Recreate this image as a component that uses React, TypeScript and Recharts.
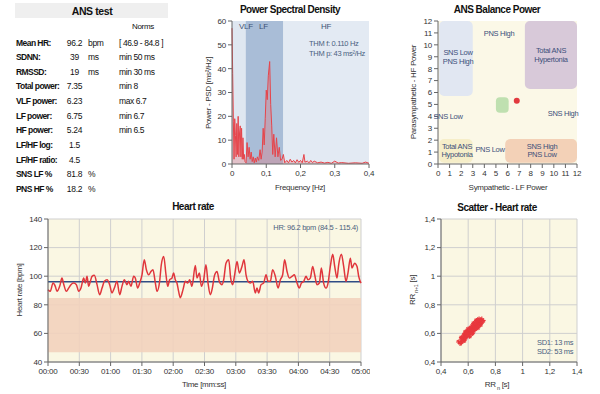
import React from "react";
import {
  AreaChart,
  Area,
  LineChart,
  Line,
  ScatterChart,
  Scatter,
  XAxis,
  YAxis,
  CartesianGrid,
  ReferenceArea,
  ReferenceLine,
} from "recharts";

const FONT = '"Liberation Sans", Arial, sans-serif';

// ---- summary table ----
const tableLabels = [
  "Mean HR:", "SDNN:", "RMSSD:", "Total power:", "VLF power:", "LF power:",
  "HF power:", "LF/HF log:", "LF/HF ratio:", "SNS LF %", "PNS HF %",
];
const tableValues = ["96.2", "39", "19", "7.35", "6.23", "6.75", "5.24", "1.5", "4.5", "81.8", "18.2"];
const tableUnits = ["bpm", "ms", "ms", "", "", "", "", "", "", "%", "%"];
const tableNorms = ["[ 46.9 - 84.8 ]", "min 50 ms", "min 30 ms", "min 8", "max 6.7", "min 6.7", "min 6.5", "", "", "", ""];

// ---- power spectral density ----
const psdFreq = [
  0, 0.002, 0.004, 0.006, 0.008, 0.01, 0.012, 0.014, 0.016, 0.018, 0.02, 0.022, 0.024, 0.026,
  0.028, 0.03, 0.032, 0.034, 0.036, 0.038, 0.041, 0.044, 0.047, 0.05, 0.053, 0.056, 0.059,
  0.062, 0.065, 0.068, 0.071, 0.074, 0.078, 0.082, 0.085, 0.088, 0.091, 0.094, 0.097, 0.1,
  0.103, 0.106, 0.11, 0.113, 0.116, 0.119, 0.122, 0.126, 0.13, 0.134, 0.138, 0.142, 0.146,
  0.15, 0.154, 0.16, 0.165, 0.17, 0.175, 0.18, 0.185, 0.19, 0.195, 0.2, 0.205, 0.21, 0.213,
  0.22, 0.225, 0.23, 0.235, 0.24, 0.25, 0.26, 0.27, 0.28, 0.29, 0.3, 0.31, 0.32, 0.34, 0.36,
  0.38, 0.39, 0.4,
];
const psdPower = [
  57, 38, 18, 2, 19, 12, 3, 17, 4, 20, 3, 13, 16, 3,
  15, 2, 11, 2, 4, 1, 0.5, 9, 3, 7, 2, 5, 1,
  3, 0.5, 2.5, 0.8, 3, 1.5, 6, 2, 5, 15, 8, 19, 31,
  27, 37, 43, 25, 16, 4, 12.5, 3, 11, 3, 7, 1.5, 2,
  4, 0.5, 1.5, 0.5, 2, 0.8, 1.5, 0.5, 1.8, 0.7, 1.5, 0.5, 4, 0.8,
  1.2, 0.5, 1.5, 0.6, 1.2, 0.5, 0.8, 0.4, 0.7, 0.3, 1.2, 0.4, 0.6, 0.3, 0.5,
  0.3, 0.8, 0.3,
];
const psdTicksX = [0, 0.1, 0.2, 0.3, 0.4];
const psdTicksY = [0, 10, 20, 30, 40, 50, 60];

// ---- ANS balance ----
const balanceTicks = [0, 1, 2, 3, 4, 5, 6, 7, 8, 9, 10, 11, 12];
const balanceLF = [6.8];
const balanceHF = [5.3];

// ---- heart rate ----
const hrTimes = [
  0, 2.2, 4.8, 7, 8.6, 11.2, 13.4, 15, 17.6, 19.8, 22, 24.6, 27.2, 29.4, 31.6, 34.2, 35.8,
  37.4, 39, 40.6, 42.2, 44.4, 47, 49.5, 51.8, 54, 56.6, 59.1, 61.3, 63.6, 66.1, 68.7, 70.9,
  73.2, 75.7, 77.3, 79.5, 82.1, 83.7, 85.9, 87.9, 90.1, 92.3, 94.3, 96.5, 98.7, 100.6, 102.9,
  104.5, 107, 108.6, 110.9, 113.1, 114.7, 116.6, 118.8, 120.4, 122, 123.6, 125.2, 126.8,
  129.4, 131.6, 133.9, 135.8, 138, 141.2, 142.8, 145.1, 147, 149.2, 151.4, 153.4, 155.6,
  157.2, 159.8, 162, 164.2, 166.8, 168.4, 170.6, 173.2, 175.1, 177, 178.9, 181.2, 183.4,
  185.9, 187.9, 189.8, 191.7, 193.9, 196.2, 198.7, 200.3, 201.9, 204.2, 206.7, 209, 210.9,
  213.1, 215.3, 217.9, 220.5, 222.7, 224.9, 226.8, 229.1, 231.3, 233.9, 236.1, 238.7, 240.9,
  242.8, 245.1, 247.3, 249.2, 251.4, 253.7, 255.6, 257.8, 260.1, 262, 264.2, 266.5, 268.4,
  270.6, 272.9, 274.8, 277, 278.6, 281.2, 283.4, 285.6, 287.5, 289.8, 291.4, 293.9, 296.2,
  297.8, 300,
];
const hrValues = [
  90.6, 89.4, 95.2, 92.9, 89.4, 92.9, 98.7, 94.5, 89.4, 91.7, 94.1, 95.2, 94.1, 89.4, 91.7,
  98.7, 95.2, 99.9, 92.9, 96.4, 99.9, 100.6, 94.1, 87.1, 91.7, 96.4, 97.5, 94.1, 88.3, 91.7,
  96.4, 87.1, 92.9, 97.5, 94.1, 96.4, 92.9, 99.9, 98.7, 91.7, 95.2, 101, 111.5, 104.5, 101,
  103.3, 104.5, 95.2, 89.4, 96.4, 108, 113.8, 101, 92.9, 97.5, 98.7, 102.2, 97.5, 95.2, 89.4,
  85, 90.6, 96.4, 95.2, 97.5, 92.9, 107.5, 98.7, 102.2, 92.9, 97.5, 108, 95.2, 87.1, 90.6,
  101, 103.3, 96.4, 94.1, 97.5, 109.1, 111.5, 98.7, 94.1, 101, 110.3, 102.2, 106.8, 111.5,
  101, 96.4, 95.2, 96.4, 88.3, 91.7, 88.3, 94.1, 95.2, 101, 96.4, 96.4, 104.5, 99.9, 91.7,
  97.5, 101, 111.5, 103.3, 98.7, 99.9, 101, 95.2, 91.7, 95.2, 96.4, 99.9, 97.5, 98.7, 106.8,
  101, 94.1, 95.2, 105.7, 95.2, 91.7, 95.2, 106.8, 115.4, 106.8, 98.7, 108, 115.4, 106.8,
  96.4, 102.2, 112.6, 105.7, 109.1, 106.8, 99.9, 95.2,
];
const hrMean = 96.2;
const hrNormLow = 46.9;
const hrNormHigh = 84.8;
const hrTicksX = [0, 30, 60, 90, 120, 150, 180, 210, 240, 270, 300];
const hrTicksY = [40, 60, 80, 100, 120, 140];

// ---- Poincare scatter ----
const rrN = [
  0.53, 0.54, 0.55, 0.55, 0.56, 0.56, 0.57, 0.57, 0.57, 0.58, 0.58, 0.58, 0.59, 0.59, 0.59,
  0.6, 0.6, 0.6, 0.61, 0.61, 0.61, 0.62, 0.62, 0.62, 0.63, 0.63, 0.63, 0.64, 0.64, 0.64,
  0.65, 0.65, 0.65, 0.66, 0.66, 0.66, 0.67, 0.67, 0.67, 0.68, 0.68, 0.68, 0.69, 0.69, 0.7,
  0.7, 0.71, 0.57, 0.6, 0.63, 0.66, 0.69, 0.55, 0.64, 0.67, 0.58, 0.61,
];
const rrN1 = [
  0.54, 0.53, 0.56, 0.54, 0.57, 0.55, 0.58, 0.56, 0.59, 0.57, 0.6, 0.58, 0.61, 0.58, 0.6,
  0.59, 0.62, 0.61, 0.6, 0.63, 0.62, 0.6, 0.64, 0.62, 0.61, 0.65, 0.63, 0.62, 0.66, 0.64,
  0.63, 0.67, 0.65, 0.64, 0.68, 0.66, 0.65, 0.69, 0.67, 0.66, 0.7, 0.68, 0.67, 0.69, 0.68,
  0.7, 0.69, 0.55, 0.63, 0.6, 0.69, 0.66, 0.57, 0.67, 0.64, 0.61, 0.58,
];
const rrTicks = [0.4, 0.6, 0.8, 1, 1.2, 1.4];

const psdData = psdFreq.map((f, i) => ({ f, p: psdPower[i] }));
const hrData = hrTimes.map((t, i) => ({ t, hr: hrValues[i] }));
const rrData = rrN.map((x, i) => ({ x, y: rrN1[i] }));
const balanceData = balanceLF.map((x, i) => ({ x, y: balanceHF[i] }));

const comma = (v: number) => String(Math.round(v * 100) / 100).replace(".", ",");
const mmss = (t: number) => {
  const m = Math.floor(t / 60);
  const s = t % 60;
  return `${String(m).padStart(2, "0")}:${String(s).padStart(2, "0")}`;
};

const tick = { fontSize: 8, fill: "#333", fontFamily: FONT, letterSpacing: -0.2 };
const axisLine = { stroke: "#666" };

// small markers
const Dot = (p: any) => <circle cx={p.cx} cy={p.cy} r={3} fill="#e23a3f" />;
const Cross = (p: any) => (
  <g stroke="#e8383d" strokeWidth={1.2}>
    <line x1={p.cx - 2.5} y1={p.cy} x2={p.cx + 2.5} y2={p.cy} />
    <line x1={p.cx} y1={p.cy - 2.5} x2={p.cx} y2={p.cy + 2.5} />
    <line x1={p.cx - 1.8} y1={p.cy - 1.8} x2={p.cx + 1.8} y2={p.cy + 1.8} />
  </g>
);

function T({
  x, y, children, size = 8, bold = false, color = "#111", align = "left", ls = -0.3, vertical = false,
}: any) {
  const tx = align === "center" ? "-50%" : align === "right" ? "-100%" : "0";
  return (
    <div
      style={{
        position: "absolute",
        left: x,
        top: y,
        fontSize: size,
        fontWeight: bold ? 700 : 400,
        color,
        letterSpacing: ls,
        whiteSpace: "nowrap",
        lineHeight: 1,
        transform: vertical
          ? "translate(-50%, -50%) rotate(-90deg)"
          : `translate(${tx}, -50%)`,
      }}
    >
      {children}
    </div>
  );
}

function Table() {
  return (
    <>
      <div style={{ position: "absolute", left: 15, top: 3, width: 153, height: 15, background: "#efefef" }} />
      <T x={92} y={11} size={10.5} bold align="center" ls={-0.4}>ANS test</T>
      <T x={143} y={27} size={8} align="center">Norms</T>
      {tableLabels.map((l, i) => {
        const y = 42.5 + i * 14.65;
        return (
          <React.Fragment key={l}>
            <T x={16} y={y} size={8.5} bold ls={-0.55}>{l}</T>
            <T x={74.5} y={y} align="center" size={8.5}>{tableValues[i]}</T>
            <T x={88} y={y} size={8.5}>{tableUnits[i]}</T>
            <T x={119} y={y} size={8.5} ls={-0.4}>{tableNorms[i]}</T>
          </React.Fragment>
        );
      })}
    </>
  );
}

function PsdChart() {
  return (
    <div style={{ position: "absolute", left: 195, top: 0 }}>
      <AreaChart width={200} height={200} data={psdData} margin={{ top: 21, right: 26, bottom: 16, left: 17 }}>
        <XAxis dataKey="f" type="number" domain={[0, 0.4]} ticks={psdTicksX} tickFormatter={comma}
          height={20} tick={tick} axisLine={axisLine} tickLine={axisLine} tickSize={4} interval={0} />
        <YAxis domain={[0, 60]} ticks={psdTicksY} width={20} tick={tick} axisLine={axisLine}
          tickLine={axisLine} tickSize={4} interval={0} />
        <ReferenceArea x1={0} x2={0.04} y1={0} y2={60} fill="#dfe7f1" fillOpacity={1} />
        <ReferenceArea x1={0.04} x2={0.15} y1={0} y2={60} fill="#a9bdd7" fillOpacity={1} />
        <ReferenceArea x1={0.15} x2={0.4} y1={0} y2={60} fill="#e3eaf3" fillOpacity={1} />
        <Area dataKey="p" type="linear" stroke="#e6454b" strokeWidth={1} fill="#ec6a6e"
          fillOpacity={0.3} dot={false} isAnimationActive={false} />
      </AreaChart>
      <T x={95} y={10} size={10} bold align="center" ls={-0.5}>Power Spectral Density</T>
      <T x={44} y={27} size={8} color="#3e5275">VLF</T>
      <T x={64} y={27} size={8} color="#3e5275">LF</T>
      <T x={126} y={27} size={8} color="#3e5275">HF</T>
      <T x={114} y={44} size={7.5} color="#4a5f80">THM f: 0.110 Hz</T>
      <T x={114} y={54} size={7.5} color="#4a5f80">THM p: 43 ms²/Hz</T>
      <T x={105} y={188} size={8} align="center" color="#333">Frequency [Hz]</T>
      <T x={14} y={93} size={8} vertical color="#333">Power - PSD [ms²/Hz]</T>
    </div>
  );
}

function BalanceChart() {
  const lab = "#3c4f7a";
  return (
    <div style={{ position: "absolute", left: 395, top: 0 }}>
      <ScatterChart width={205} height={200} margin={{ top: 21, right: 23, bottom: 16, left: 23 }}>
        <XAxis dataKey="x" type="number" domain={[0, 12]} ticks={balanceTicks} height={20} tick={tick}
          axisLine={axisLine} tickLine={axisLine} tickSize={4} interval={0} />
        <YAxis dataKey="y" type="number" domain={[0, 12]} ticks={balanceTicks} width={20} tick={tick}
          axisLine={axisLine} tickLine={axisLine} tickSize={4} interval={0} />
        <ReferenceArea x1={0} x2={12} y1={0} y2={12} fill="#fbf8e7" fillOpacity={1} />
        <ReferenceArea x1={0.1} x2={3} y1={5.7} y2={12} fill="#e1e7f2" fillOpacity={1} radius={5} />
        <ReferenceArea x1={7.5} x2={12} y1={6.3} y2={12} fill="#d8c9d9" fillOpacity={1} radius={5} />
        <ReferenceArea x1={0.1} x2={3} y1={0.1} y2={2.1} fill="#f6eec9" fillOpacity={1} radius={5} />
        <ReferenceArea x1={5.8} x2={12} y1={0.1} y2={2.1} fill="#f3d1b7" fillOpacity={1} radius={5} />
        <ReferenceArea x1={5} x2={6.1} y1={4.3} y2={5.6} fill="#bfe0b0" fillOpacity={1} radius={4} />
        <Scatter data={balanceData} shape={Dot} isAnimationActive={false} />
      </ScatterChart>
      <T x={102} y={10} size={10} bold align="center" ls={-0.5}>ANS Balance Power</T>
      <T x={63} y={53} size={7.5} align="center" color={lab}>SNS Low</T>
      <T x={63} y={62} size={7.5} align="center" color={lab}>PNS High</T>
      <T x={104} y={34} size={7.5} align="center" color={lab}>PNS High</T>
      <T x={156} y={51} size={7.5} align="center" color={lab}>Total ANS</T>
      <T x={156} y={60} size={7.5} align="center" color={lab}>Hypertonia</T>
      <T x={53} y={117} size={7.5} align="center" color={lab}>SNS Low</T>
      <T x={168} y={114} size={7.5} align="center" color={lab}>SNS High</T>
      <T x={62} y={147} size={7.5} align="center" color={lab}>Total ANS</T>
      <T x={62} y={155} size={7.5} align="center" color={lab}>Hypotonia</T>
      <T x={95} y={150} size={7.5} align="center" color={lab}>PNS Low</T>
      <T x={147} y={147} size={7.5} align="center" color={lab}>SNS High</T>
      <T x={147} y={155} size={7.5} align="center" color={lab}>PNS Low</T>
      <T x={113} y={188} size={8} align="center" color="#333">Sympathetic - LF Power</T>
      <T x={19} y={92} size={8} vertical color="#333">Parasympathetic - HF Power</T>
    </div>
  );
}

function HeartRateChart() {
  return (
    <div style={{ position: "absolute", left: 0, top: 195 }}>
      <LineChart width={370} height={199} data={hrData} margin={{ top: 24, right: 9, bottom: 12, left: 28 }}>
        <CartesianGrid stroke="#cfcfcf" fill="#faf7e3" fillOpacity={1} />
        <XAxis dataKey="t" type="number" domain={[0, 300]} ticks={hrTicksX} tickFormatter={mmss}
          height={20} tick={tick} axisLine={axisLine} tickLine={axisLine} tickSize={4} interval={0} />
        <YAxis domain={[40, 140]} ticks={hrTicksY} width={20} tick={tick} axisLine={axisLine}
          tickLine={axisLine} tickSize={4} interval={0} />
        <ReferenceArea y1={hrNormLow} y2={hrNormHigh} fill="#f2d2bc" fillOpacity={0.9} />
        <ReferenceLine y={hrMean} stroke="#2f4c85" strokeWidth={1.5} />
        <Line dataKey="hr" type="monotone" stroke="#e0363c" strokeWidth={1.5} dot={false}
          isAnimationActive={false} />
      </LineChart>
      <T x={193} y={12} size={10} bold align="center" ls={-0.5}>Heart rate</T>
      <T x={358} y={33} size={7.5} align="right" color="#4a5f80">HR: 96.2 bpm (84.5 - 115.4)</T>
      <T x={204} y={190} size={8} align="center" color="#333">Time [mm:ss]</T>
      <T x={20} y={95} size={8} vertical color="#333">Heart rate [bpm]</T>
    </div>
  );
}

function ScatterHrChart() {
  return (
    <div style={{ position: "absolute", left: 395, top: 195 }}>
      <ScatterChart width={205} height={199} margin={{ top: 24, right: 23, bottom: 12, left: 26 }}>
        <CartesianGrid stroke="#cfcfcf" fill="#faf7e3" fillOpacity={1} />
        <XAxis dataKey="x" type="number" domain={[0.4, 1.4]} ticks={rrTicks} tickFormatter={comma}
          height={20} tick={tick} axisLine={axisLine} tickLine={axisLine} tickSize={4} interval={0} />
        <YAxis dataKey="y" type="number" domain={[0.4, 1.4]} ticks={rrTicks} tickFormatter={comma}
          width={20} tick={tick} axisLine={axisLine} tickLine={axisLine} tickSize={4} interval={0} />
        <Scatter data={rrData} shape={Cross} isAnimationActive={false} />
      </ScatterChart>
      <T x={102} y={13} size={10} bold align="center" ls={-0.5}>Scatter - Heart rate</T>
      <T x={142} y={148} size={7.5} color="#4a5f80">SD1: 13 ms</T>
      <T x={142} y={157} size={7.5} color="#4a5f80">SD2: 53 ms</T>
      <T x={102} y={191} size={8} align="center" color="#333">
        RR<span style={{ fontSize: 5.5, verticalAlign: "sub" }}> n</span> [s]
      </T>
      <T x={19} y={95} size={8} vertical color="#333">
        RR<span style={{ fontSize: 5.5, verticalAlign: "sub" }}> n+1</span> [s]
      </T>
    </div>
  );
}

export default function App() {
  return (
    <div
      style={{
        position: "absolute",
        left: 0,
        top: 0,
        width: 600,
        height: 394,
        background: "#fff",
        fontFamily: FONT,
        overflow: "hidden",
      }}
    >
      <Table />
      <PsdChart />
      <BalanceChart />
      <HeartRateChart />
      <ScatterHrChart />
    </div>
  );
}
